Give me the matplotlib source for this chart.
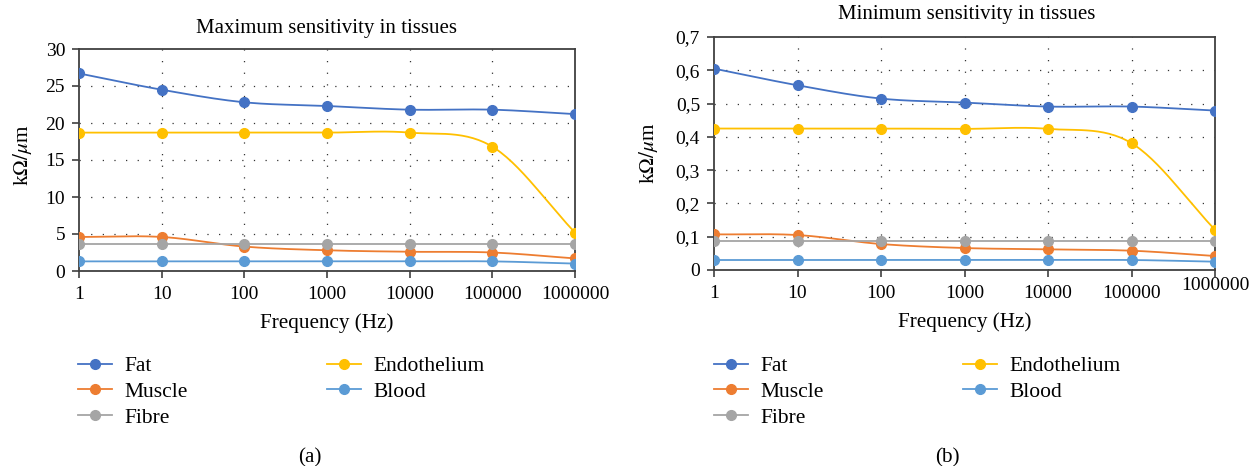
import numpy as np
import matplotlib
matplotlib.use("Agg")
import matplotlib.pyplot as plt
from matplotlib.lines import Line2D

plt.rcParams['font.family'] = ['Liberation Serif', 'DejaVu Serif']
plt.rcParams['mathtext.fontset'] = 'stix'

freq_labels = ['1', '10', '100', '1000', '10000', '100000', '1000000']
series_names = ['Fat', 'Muscle', 'Fibre', 'Endothelium', 'Blood']
colors = ['#4472C4', '#ED7D31', '#A5A5A5', '#FFC000', '#5B9BD5']

# (a) maximum sensitivity, kOhm/um
max_fat = [26.7, 24.5, 22.8, 22.3, 21.8, 21.8, 21.2]
max_muscle = [4.6, 4.6, 3.3, 2.8, 2.6, 2.5, 1.7]
max_fibre = [3.7, 3.7, 3.7, 3.7, 3.7, 3.7, 3.7]
max_endo = [18.7, 18.7, 18.7, 18.7, 18.7, 16.8, 5.2]
max_blood = [1.3, 1.3, 1.3, 1.3, 1.3, 1.3, 1.0]

# (b) minimum sensitivity, kOhm/um
min_fat = [0.605, 0.555, 0.515, 0.503, 0.491, 0.491, 0.479]
min_muscle = [0.107, 0.105, 0.078, 0.066, 0.062, 0.058, 0.042]
min_fibre = [0.086, 0.086, 0.086, 0.086, 0.086, 0.086, 0.086]
min_endo = [0.425, 0.425, 0.425, 0.424, 0.424, 0.381, 0.121]
min_blood = [0.030, 0.030, 0.030, 0.030, 0.030, 0.030, 0.025]

max_ticks = [0, 5, 10, 15, 20, 25, 30]
max_ticklabels = ['0', '5', '10', '15', '20', '25', '30']
min_ticks = [0, 0.1, 0.2, 0.3, 0.4, 0.5, 0.6, 0.7]
min_ticklabels = ['0', '0,1', '0,2', '0,3', '0,4', '0,5', '0,6', '0,7']

W, H = 1257, 466
fig = plt.figure(figsize=(W / 100, H / 100), dpi=100)


def px_axes(left, top, right, bottom):
    return fig.add_axes([left / W, 1 - bottom / H, (right - left) / W, (bottom - top) / H])


def smooth(y, n=30):
    """Catmull-Rom smoothing through points (like spreadsheet smoothed lines)."""
    y = np.asarray(y, float)
    x = np.arange(len(y), dtype=float)
    m = np.zeros_like(y)
    m[1:-1] = (y[2:] - y[:-2]) / 2
    m[0] = y[1] - y[0]
    m[-1] = y[-1] - y[-2]
    xs, ys = [], []
    for i in range(len(y) - 1):
        t = np.linspace(0, 1, n, endpoint=(i == len(y) - 2))
        h00 = 2 * t**3 - 3 * t**2 + 1
        h10 = t**3 - 2 * t**2 + t
        h01 = -2 * t**3 + 3 * t**2
        h11 = t**3 - t**2
        xs.append(x[i] + t)
        ys.append(h00 * y[i] + h10 * m[i] + h01 * y[i + 1] + h11 * m[i + 1])
    return np.concatenate(xs), np.concatenate(ys)


TICK_FS = 14
LAB_FS = 15.2
TITLE_FS = 15
LEG_FS = 15.5
spine_col = '#404040'
grid_col = '#333333'
LW = 1.3
MS = 7
DOTS = (0, (1, 8.3))


def draw(ax, data, ticks, ticklabels, ymax):
    x = np.arange(len(freq_labels))
    order = [2, 3, 0, 1, 4]  # drawing order
    for k in order:
        sx, sy = smooth(data[k])
        ax.plot(sx, sy, color=colors[k], lw=LW, zorder=3 + k * 0.1, solid_capstyle='round')
        ax.plot(x, data[k], 'o', color=colors[k], ms=MS, zorder=4 + k * 0.1)
    ax.set_xlim(0, len(freq_labels) - 1)
    ax.set_ylim(0, ymax)
    ax.set_xticks(x)
    ax.set_xticklabels(freq_labels, fontsize=TICK_FS)
    ax.set_yticks(ticks)
    ax.set_yticklabels(ticklabels, fontsize=TICK_FS)
    for s in ax.spines.values():
        s.set_color(spine_col)
        s.set_linewidth(1.3)
    ax.tick_params(axis='both', direction='out', length=5, width=1.2, color=spine_col, pad=5)
    ax.tick_params(axis='x', pad=6)
    for v in x[1:-1]:
        ax.axvline(v, color=grid_col, lw=0.9, ls=DOTS, zorder=1)
    for v in ticks[1:-1]:
        ax.axhline(v, color=grid_col, lw=0.9, ls=DOTS, zorder=1)
    ax.set_xlabel('Frequency (Hz)', fontsize=LAB_FS, labelpad=7)


def legend(ax, x0, ytop):
    hs = [Line2D([], [], color=colors[k], lw=LW, marker='o', ms=MS) for k in range(5)]
    kw = dict(loc='upper left', bbox_transform=fig.transFigure, frameon=False,
              fontsize=LEG_FS, borderpad=0, handlelength=1.58, handletextpad=0.6,
              labelspacing=0.27, borderaxespad=0)
    l1 = ax.legend(hs[:3], series_names[:3], bbox_to_anchor=(x0 / W, 1 - ytop / H), **kw)
    ax.add_artist(l1)
    ax.legend(hs[3:], series_names[3:], bbox_to_anchor=((x0 + 249) / W, 1 - ytop / H), **kw)


ylab = r'k$\Omega/\mu$m'

ax1 = px_axes(79, 49, 575, 271)
draw(ax1, [max_fat, max_muscle, max_fibre, max_endo, max_blood], max_ticks, max_ticklabels, 30)
fig.text(326 / W, 1 - 28 / H, 'Maximum sensitivity in tissues', ha='center', va='center', fontsize=TITLE_FS)
fig.text(22 / W, 1 - 155 / H, ylab, rotation=90, ha='center', va='center', fontsize=LAB_FS)
legend(ax1, 78, 356)
fig.text(310 / W, 1 - 458 / H, '(a)', ha='center', va='center', fontsize=LAB_FS)

ax2 = px_axes(714, 37, 1215, 270)
draw(ax2, [min_fat, min_muscle, min_fibre, min_endo, min_blood], min_ticks, min_ticklabels, 0.7)
fig.text(967 / W, 1 - 14 / H, 'Minimum sensitivity in tissues', ha='center', va='center', fontsize=TITLE_FS)
fig.text(649 / W, 1 - 153 / H, ylab, rotation=90, ha='center', va='center', fontsize=LAB_FS)
legend(ax2, 714, 356)
fig.text(947 / W, 1 - 458 / H, '(b)', ha='center', va='center', fontsize=LAB_FS)
# last tick label on (b) sits higher
ax2.get_xticklabels()[-1].set_y(0.035)

fig.savefig('out.png', dpi=100)
